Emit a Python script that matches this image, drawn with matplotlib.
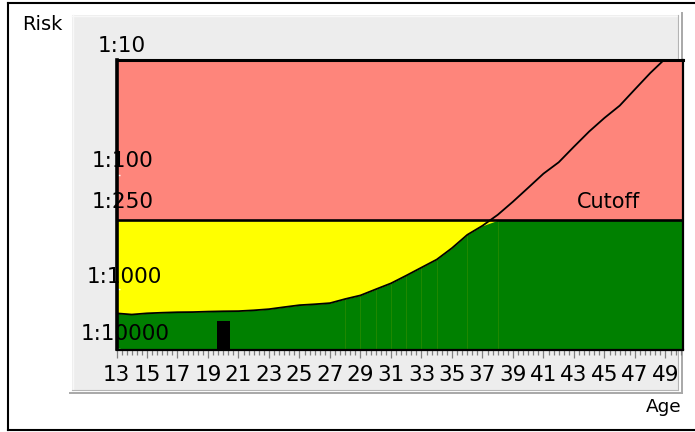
import numpy as np
import matplotlib.pyplot as plt
import matplotlib.transforms as mtransforms
from matplotlib.ticker import MultipleLocator, NullLocator
from matplotlib.patches import Rectangle
from matplotlib.lines import Line2D

plt.rcParams['font.family'] = ['DejaVu Sans']

# ---------------- data (risk shown as 1:N, N = denominator) ----------------
ages = [13, 14, 15, 16, 17, 18, 19, 20, 21, 22, 23, 24, 25, 26, 27, 28, 29, 30, 31,
        32, 33, 34, 35, 36, 37, 38, 39, 40, 41, 42, 43, 44, 45, 46, 47, 48, 49]
risk_den = [1620, 1660, 1620, 1600, 1585, 1580, 1565, 1555, 1550, 1525, 1490, 1430,
            1375, 1350, 1320, 1215, 1130, 1000, 887, 759, 646, 550, 437, 335, 279,
            224, 172, 130, 98, 78, 57, 42, 32, 25, 18, 13, 9.7]
cutoff = 250
patient_age = 20
patient_risk = 1900
seam_ages = [28, 29, 30, 31, 32, 33, 34, 36, 38]

risk_ticks = [10, 100, 250, 1000, 10000]
risk_labels = ["1:10", "1:100", "1:250", "1:1000", "1:10000"]
age_ticks = list(range(13, 50, 2))

# ---------------- layout (pixels of the 695x432 picture) ----------------
W, H = 695, 432
def fx(x):
    return x / W
def fy(y):
    return 1 - y / H

y_floor = 3350          # bottom of the risk axis
x_max = 50.15
label_left_px = [98, 92, 92, 86.7, 80.7]
label_dy_px = [8, 7.5, 12, 6, 9.5]

fig = plt.figure(figsize=(W / 100, H / 100), dpi=100)

def fig_line(xs, ys, **kw):
    fig.add_artist(Line2D([fx(v) for v in xs], [fy(v) for v in ys], zorder=-1, **kw))

# outer frame
fig_line([7.5, 7.5], [3, 429.5], color='black', lw=1.5)
fig_line([7.5, 695], [3, 3], color='black', lw=1.5)
fig_line([7.5, 695], [429.5, 429.5], color='black', lw=1.5)

# grey panel with a raised border
fig.add_artist(Rectangle((fx(72), fy(390)), (678 - 72) / W, (390 - 15) / H,
                         transform=fig.transFigure, facecolor='#ededed',
                         edgecolor='none', zorder=-2))
fig_line([72, 678], [15.5, 15.5], color='#f8f8f8', lw=1)
fig_line([72.5, 72.5], [15, 390], color='#f8f8f8', lw=1)
fig_line([72, 678], [390, 390], color='#b4b4b4', lw=0.8)
fig_line([678, 678], [15, 390], color='#b4b4b4', lw=0.8)
fig_line([70, 682], [392.5, 392.5], color='#a8a8a8', lw=1.4)
fig_line([681.5, 681.5], [13, 392.5], color='#a8a8a8', lw=1.4)

ax = fig.add_axes([fx(116.5), fy(349.5), (683 - 116.5) / W, (349.5 - 60) / H])
ax.set_zorder(2)
ax.set_yscale('log')
ax.set_ylim(y_floor, 10)
ax.set_xlim(13, x_max)
ax.patch.set_alpha(0)

# zones
ax.axhspan(y_floor, cutoff, color='#ffff00', lw=0, zorder=0)
ax.axhspan(cutoff, 10, color='#fe857b', lw=0, zorder=0)

risk = np.array(risk_den, dtype=float)
green_top = np.maximum(risk, cutoff)
ax.fill_between(ages + [x_max], y_floor, list(green_top) + [cutoff],
                color='#008000', lw=0, zorder=1)
for a in seam_ages:
    ax.vlines(a, y_floor, green_top[ages.index(a)], color='#268a00', lw=0.6, zorder=1.5)

ax.bar(patient_age, patient_risk - y_floor, bottom=y_floor, width=0.88,
       color='black', lw=0, zorder=3)

ax.plot(ages, risk, color='black', lw=1.3, zorder=4)
ax.axhline(cutoff, color='black', lw=1.9, zorder=4)

for side, lw in [('left', 2.6), ('top', 2.2), ('bottom', 1.6), ('right', 1.6)]:
    ax.spines[side].set_linewidth(lw)
    ax.spines[side].set_color('black')
    ax.spines[side].set_zorder(5)

# x axis
ax.set_xticks(age_ticks)
ax.set_xticklabels([str(a) for a in age_ticks])
ax.xaxis.set_minor_locator(MultipleLocator(1 / 3))
ax.tick_params(axis='x', which='major', length=6, width=0.9, color='#808080',
               labelsize=15.5, pad=5)
ax.tick_params(axis='x', which='minor', length=3.5, width=0.9, color='#808080')

# y axis: small white marks, labels drawn as text above each mark
tick_pos = [min(t, y_floor) for t in risk_ticks]
ax.set_yticks(tick_pos)
ax.set_yticklabels([''] * len(tick_pos))
ax.yaxis.set_minor_locator(NullLocator())
ax.tick_params(axis='y', which='major', direction='in', length=2.5, width=1,
               color='white', labelleft=False)
ytrans = ax.get_yaxis_transform()
for t, lab, xl, dy in zip(tick_pos, risk_labels, label_left_px, label_dy_px):
    tr = mtransforms.offset_copy(ytrans, fig=fig, y=dy, units='dots')
    ax.text((xl - 116.5) / (683 - 116.5), t, lab, transform=tr, ha='left',
            va='baseline', fontsize=15.5, zorder=6, clip_on=False)

tr = mtransforms.offset_copy(ax.transData, fig=fig, y=12, units='dots')
ax.text(43.2, cutoff, "Cutoff", transform=tr, ha='left', va='baseline', fontsize=15, zorder=6)

fig.text(fx(21.7), fy(30), "Risk", fontsize=14, va='baseline')
fig.text(fx(681.7), fy(411.7), "Age", fontsize=13.3, ha='right', va='baseline')

fig.savefig('out.png', dpi=100)
